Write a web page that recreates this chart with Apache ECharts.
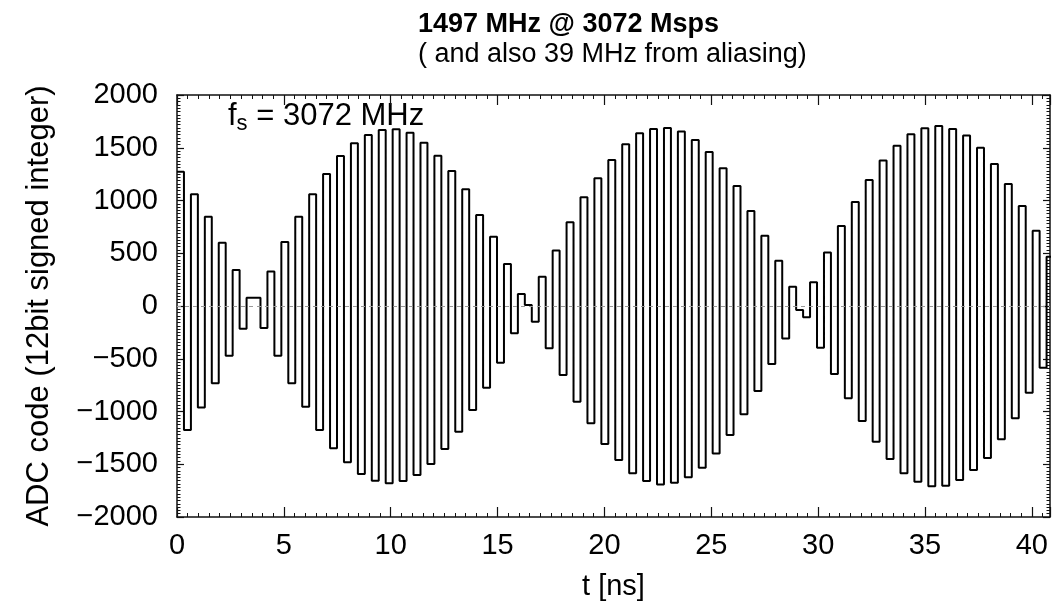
<!DOCTYPE html>
<html>
<head>
<meta charset="utf-8">
<title>1497 MHz @ 3072 Msps</title>
<script src="https://cdn.jsdelivr.net/npm/echarts@6/dist/echarts.min.js"></script>
<style>
  html, body { margin: 0; padding: 0; background: #fff; }
  #main { width: 1062px; height: 611px; }
</style>
</head>
<body>
<div id="main"></div>
<script>
// sample period in ns (3072 Msps)
const sampleNs = 1 / 3.072;

// ADC codes, one per sample
const adcCodes = [
  1273, -1176, 1059, -961, 847, -733, 600, -471, 341, -215,
  79, 79, -209, 326, -471, 607, -733, 847, -954, 1059,
  -1176, 1251, -1349, 1422, -1482, 1542, -1593, 1621, -1656, 1668,
  -1681, 1675, -1659, 1643, -1602, 1548, -1498, 1425, -1356, 1280,
  -1191, 1106, -986, 863, -774, 657, -537, 398, -259, 114,
  9, -149, 278, -401, 525, -654, 793, -907, 1030, -1112,
  1210, -1308, 1384, -1460, 1533, -1586, 1637, -1659, 1678, -1691,
  1687, -1675, 1653, -1624, 1574, -1533, 1460, -1397, 1305, -1223,
  1138, -1027, 901, -806, 667, -550, 430, -307, 183, -38,
  -107, 224, -395, 506, -645, 758, -875, 986, -1090, 1194,
  -1286, 1378, -1450, 1520, -1586, 1627, -1665, 1684, -1708, 1706,
  -1703, 1678, -1650, 1615, -1555, 1501, -1441, 1346, -1264, 1157,
  -1065, 948, -822, 714, -585, 468
];

// axis ranges
const xRange = [0, 40.85];
const yRange = [-2000, 2000];

const font = 'Liberation Sans, Arial, Helvetica, sans-serif';

// each code is held for one sample period (step plot)
const points = adcCodes.map((v, i) => [i * sampleNs, v]);
points.push([adcCodes.length * sampleNs, adcCodes[adcCodes.length - 1]]);

const chart = echarts.init(document.getElementById('main'), null, { renderer: 'canvas' });

function xAxisCfg(pos, withLabels) {
  return {
    type: 'value',
    position: pos,
    min: xRange[0],
    max: xRange[1],
    interval: 5,
    name: withLabels ? 't [ns]' : '',
    nameLocation: 'middle',
    nameGap: 55,
    nameTextStyle: { fontFamily: font, fontSize: 29, color: '#000' },
    axisLine: { show: true, onZero: false, lineStyle: { color: '#111', width: 1.5 } },
    axisTick: { show: true, inside: true, length: 10, lineStyle: { color: '#111', width: 1.2 } },
    minorTick: { show: true, splitNumber: 10, length: 4, lineStyle: { color: '#111', width: 1 } },
    axisLabel: {
      show: withLabels,
      fontFamily: font,
      fontSize: 29,
      color: '#000',
      margin: 14,
      formatter: v => (Math.abs(v % 5) < 1e-6 ? String(v) : '')
    },
    splitLine: { show: false }
  };
}

function yAxisCfg(pos, withLabels) {
  return {
    type: 'value',
    position: pos,
    min: yRange[0],
    max: yRange[1],
    interval: 500,
    name: withLabels ? 'ADC code (12bit signed integer)' : '',
    nameLocation: 'middle',
    nameGap: 122,
    nameTextStyle: { fontFamily: font, fontSize: 31, color: '#000' },
    axisLine: { show: true, onZero: false, lineStyle: { color: '#111', width: 1.5 } },
    axisTick: { show: true, inside: true, length: 7, lineStyle: { color: '#111', width: 1.2 } },
    minorTick: { show: true, splitNumber: 16, length: 3.5, lineStyle: { color: '#111', width: 1 } },
    axisLabel: {
      show: withLabels,
      fontFamily: font,
      fontSize: 29,
      color: '#000',
      margin: 19,
      formatter: v => (v < 0 ? '\u2212' + Math.abs(v) : String(v))
    },
    splitLine: { show: false }
  };
}

const option = {
  animation: false,
  backgroundColor: '#fff',
  title: {
    left: 413,
    top: 6,
    text: '1497 MHz @ 3072 Msps',
    subtext: '( and also 39 MHz from aliasing)',
    itemGap: 3,
    textStyle: { fontFamily: font, fontSize: 27, fontWeight: 'bold', color: '#000' },
    subtextStyle: { fontFamily: font, fontSize: 27, color: '#000' }
  },
  grid: { left: 177, right: 12, top: 95, bottom: 94 },
  xAxis: [xAxisCfg('bottom', true), xAxisCfg('top', false)],
  yAxis: [yAxisCfg('left', true), yAxisCfg('right', false)],
  graphic: [
    {
      type: 'text',
      left: 228,
      top: 101,
      style: {
        text: '{f|f}{s|s}{f| = 3072 MHz}',
        rich: {
          f: { fontFamily: font, fontSize: 31, fill: '#000' },
          s: { fontFamily: font, fontSize: 22, fill: '#000', padding: [15, 0, 0, 0] }
        }
      }
    }
  ],
  series: [
    {
      type: 'line',
      xAxisIndex: 0,
      yAxisIndex: 0,
      step: 'end',
      showSymbol: false,
      symbol: 'none',
      clip: true,
      lineStyle: { color: '#000', width: 2 },
      data: points,
      markLine: {
        silent: true,
        symbol: ['none', 'none'],
        label: { show: false },
        lineStyle: { color: '#999', width: 1, type: [4, 4] },
        data: [{ yAxis: 0 }]
      }
    }
  ]
};

chart.setOption(option);
</script>
</body>
</html>
